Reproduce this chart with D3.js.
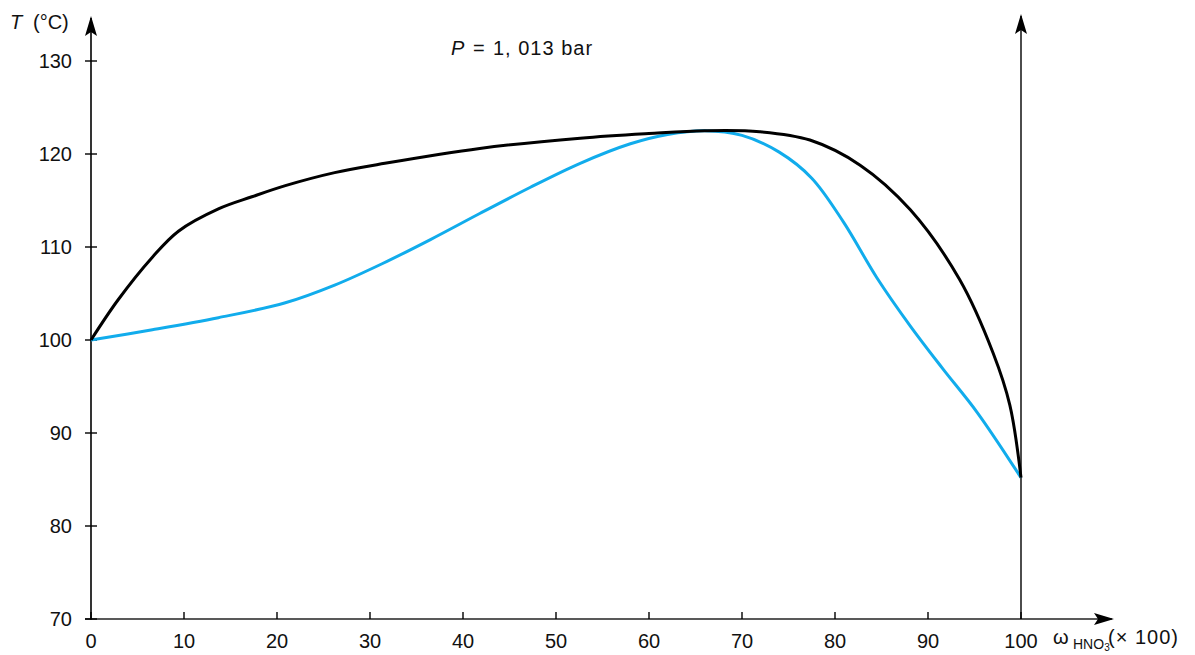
<!DOCTYPE html>
<html>
<head>
<meta charset="utf-8">
<script src="https://cdn.jsdelivr.net/npm/d3@7"></script>
<style>
  body { margin: 0; background: #fff; }
  text { font-family: "Liberation Sans", Arial, sans-serif; fill: #111; }
</style>
</head>
<body>
<div id="chart"></div>
<script>
// HNO3 / water boiling diagram at P = 1,013 bar
var xTicks = [0, 10, 20, 30, 40, 50, 60, 70, 80, 90, 100];
var yTicks = [70, 80, 90, 100, 110, 120, 130];

// dew curve (vapour), black
var dewX = [0, 2.9, 6.6, 9.4, 13.7, 17.3, 20.9, 26.2, 31.6, 41.8, 52.6, 60, 66, 71.9, 77.3, 82.7, 88.1, 93.4, 97, 98.8, 100];
var dewT = [100, 104.3, 108.9, 111.7, 114.1, 115.4, 116.6, 118.0, 119.0, 120.6, 121.7, 122.2, 122.5, 122.4, 121.5, 118.8, 114.0, 106.5, 98.6, 93.0, 85.2];

// bubble curve (liquid), blue
var bubX = [0, 6.6, 13.7, 20.9, 26.2, 31.3, 36.5, 41.8, 47.2, 52.6, 58, 62, 66, 70, 74, 77.5, 80.9, 84.5, 88.1, 91.6, 95.3, 100];
var bubT = [100, 101.1, 102.4, 104.0, 105.9, 108.2, 110.8, 113.6, 116.4, 119.0, 121.1, 122.1, 122.5, 122.0, 120.2, 117.4, 112.7, 106.7, 101.5, 96.9, 92.2, 85.2];

var totalWidth = 1195;
var totalHeight = 655;
var margin = {top: 61, right: 174, bottom: 36, left: 91};
var width = totalWidth - margin.left - margin.right;   // 930
var height = totalHeight - margin.top - margin.bottom; // 558

var x = d3.scaleLinear().domain([0, 100]).range([0, width]);
var y = d3.scaleLinear().domain([70, 130]).range([height, 0]);

var svg = d3.select('#chart').append('svg')
  .attr('width', totalWidth)
  .attr('height', totalHeight);

var defs = svg.append('defs');
defs.append('marker')
  .attr('id', 'arrow')
  .attr('viewBox', '0 0 20 14')
  .attr('refX', 18)
  .attr('refY', 7)
  .attr('markerUnits', 'userSpaceOnUse')
  .attr('markerWidth', 20)
  .attr('markerHeight', 14)
  .attr('orient', 'auto')
  .append('path')
  .attr('d', 'M0,1 L20,7 L0,13 L4,7 Z')
  .attr('fill', '#000');

var g = svg.append('g')
  .attr('transform', 'translate(' + margin.left + ',' + margin.top + ')');

// axes lines with arrows
g.append('line')
  .attr('x1', x(0)).attr('y1', y(70) + 1)
  .attr('x2', x(0)).attr('y2', y(130) - 43)
  .attr('stroke', '#000').attr('stroke-width', 1.6)
  .attr('marker-end', 'url(#arrow)');

g.append('line')
  .attr('x1', x(0) - 6).attr('y1', y(70))
  .attr('x2', x(100) + 91).attr('y2', y(70))
  .attr('stroke', '#222').attr('stroke-width', 1.6)
  .attr('marker-end', 'url(#arrow)');

g.append('line')
  .attr('x1', x(100)).attr('y1', y(70))
  .attr('x2', x(100)).attr('y2', y(130) - 45)
  .attr('stroke', '#000').attr('stroke-width', 1.4)
  .attr('marker-end', 'url(#arrow)');

// y ticks
g.selectAll('.ytick')
  .data(yTicks)
  .enter().append('line')
  .attr('class', 'ytick')
  .attr('x1', -6).attr('x2', 6)
  .attr('y1', d => y(d)).attr('y2', d => y(d))
  .attr('stroke', '#000').attr('stroke-width', 1.4);

g.selectAll('.ylabel')
  .data(yTicks)
  .enter().append('text')
  .attr('class', 'ylabel')
  .attr('x', -19)
  .attr('y', d => y(d))
  .attr('dy', '0.36em')
  .style('text-anchor', 'end')
  .style('font-size', '20px')
  .text(d => d);

// x ticks
g.selectAll('.xtick')
  .data(xTicks)
  .enter().append('line')
  .attr('class', 'xtick')
  .attr('x1', d => x(d)).attr('x2', d => x(d))
  .attr('y1', height - 7).attr('y2', height)
  .attr('stroke', '#000').attr('stroke-width', 1.4);

g.selectAll('.xlabel')
  .data(xTicks)
  .enter().append('text')
  .attr('class', 'xlabel')
  .attr('x', d => x(d))
  .attr('y', height + 29)
  .style('text-anchor', 'middle')
  .style('font-size', '20px')
  .text(d => d);

// curves
var line = d3.line()
  .x(d => x(d[0]))
  .y(d => y(d[1]))
  .curve(d3.curveCatmullRom.alpha(0.5));

var bubble = bubX.map((v, i) => [v, bubT[i]]);
var dew = dewX.map((v, i) => [v, dewT[i]]);

g.append('path')
  .datum(bubble)
  .attr('d', line)
  .attr('fill', 'none')
  .attr('stroke', '#11acec')
  .attr('stroke-width', 3);

g.append('path')
  .datum(dew)
  .attr('d', line)
  .attr('fill', 'none')
  .attr('stroke', '#000')
  .attr('stroke-width', 3);

// axis titles
var yt = svg.append('text')
  .attr('y', 29)
  .style('font-size', '20px');
yt.append('tspan').attr('x', 10).style('font-style', 'italic').text('T');
yt.append('tspan').attr('x', 33).text('(°C)');

var pt = svg.append('text')
  .attr('y', 55)
  .style('font-size', '20px');
pt.append('tspan').attr('x', 451).style('font-style', 'italic').text('P');
pt.append('tspan').attr('x', 473).text('=');
pt.append('tspan').attr('x', 493).style('letter-spacing', '1px').text('1, 013 bar');

var xt = svg.append('text')
  .attr('y', 644)
  .style('font-size', '20px');
xt.append('tspan').attr('x', 1053).text('ω');
xt.append('tspan').attr('x', 1073).attr('dy', 5).style('font-size', '14px').text('HNO');
xt.append('tspan').attr('dy', 2).style('font-size', '10px').text('3');
xt.append('tspan').attr('x', 1108).attr('dy', -7).style('letter-spacing', '1px').text('(× 100)');
</script>
</body>
</html>
